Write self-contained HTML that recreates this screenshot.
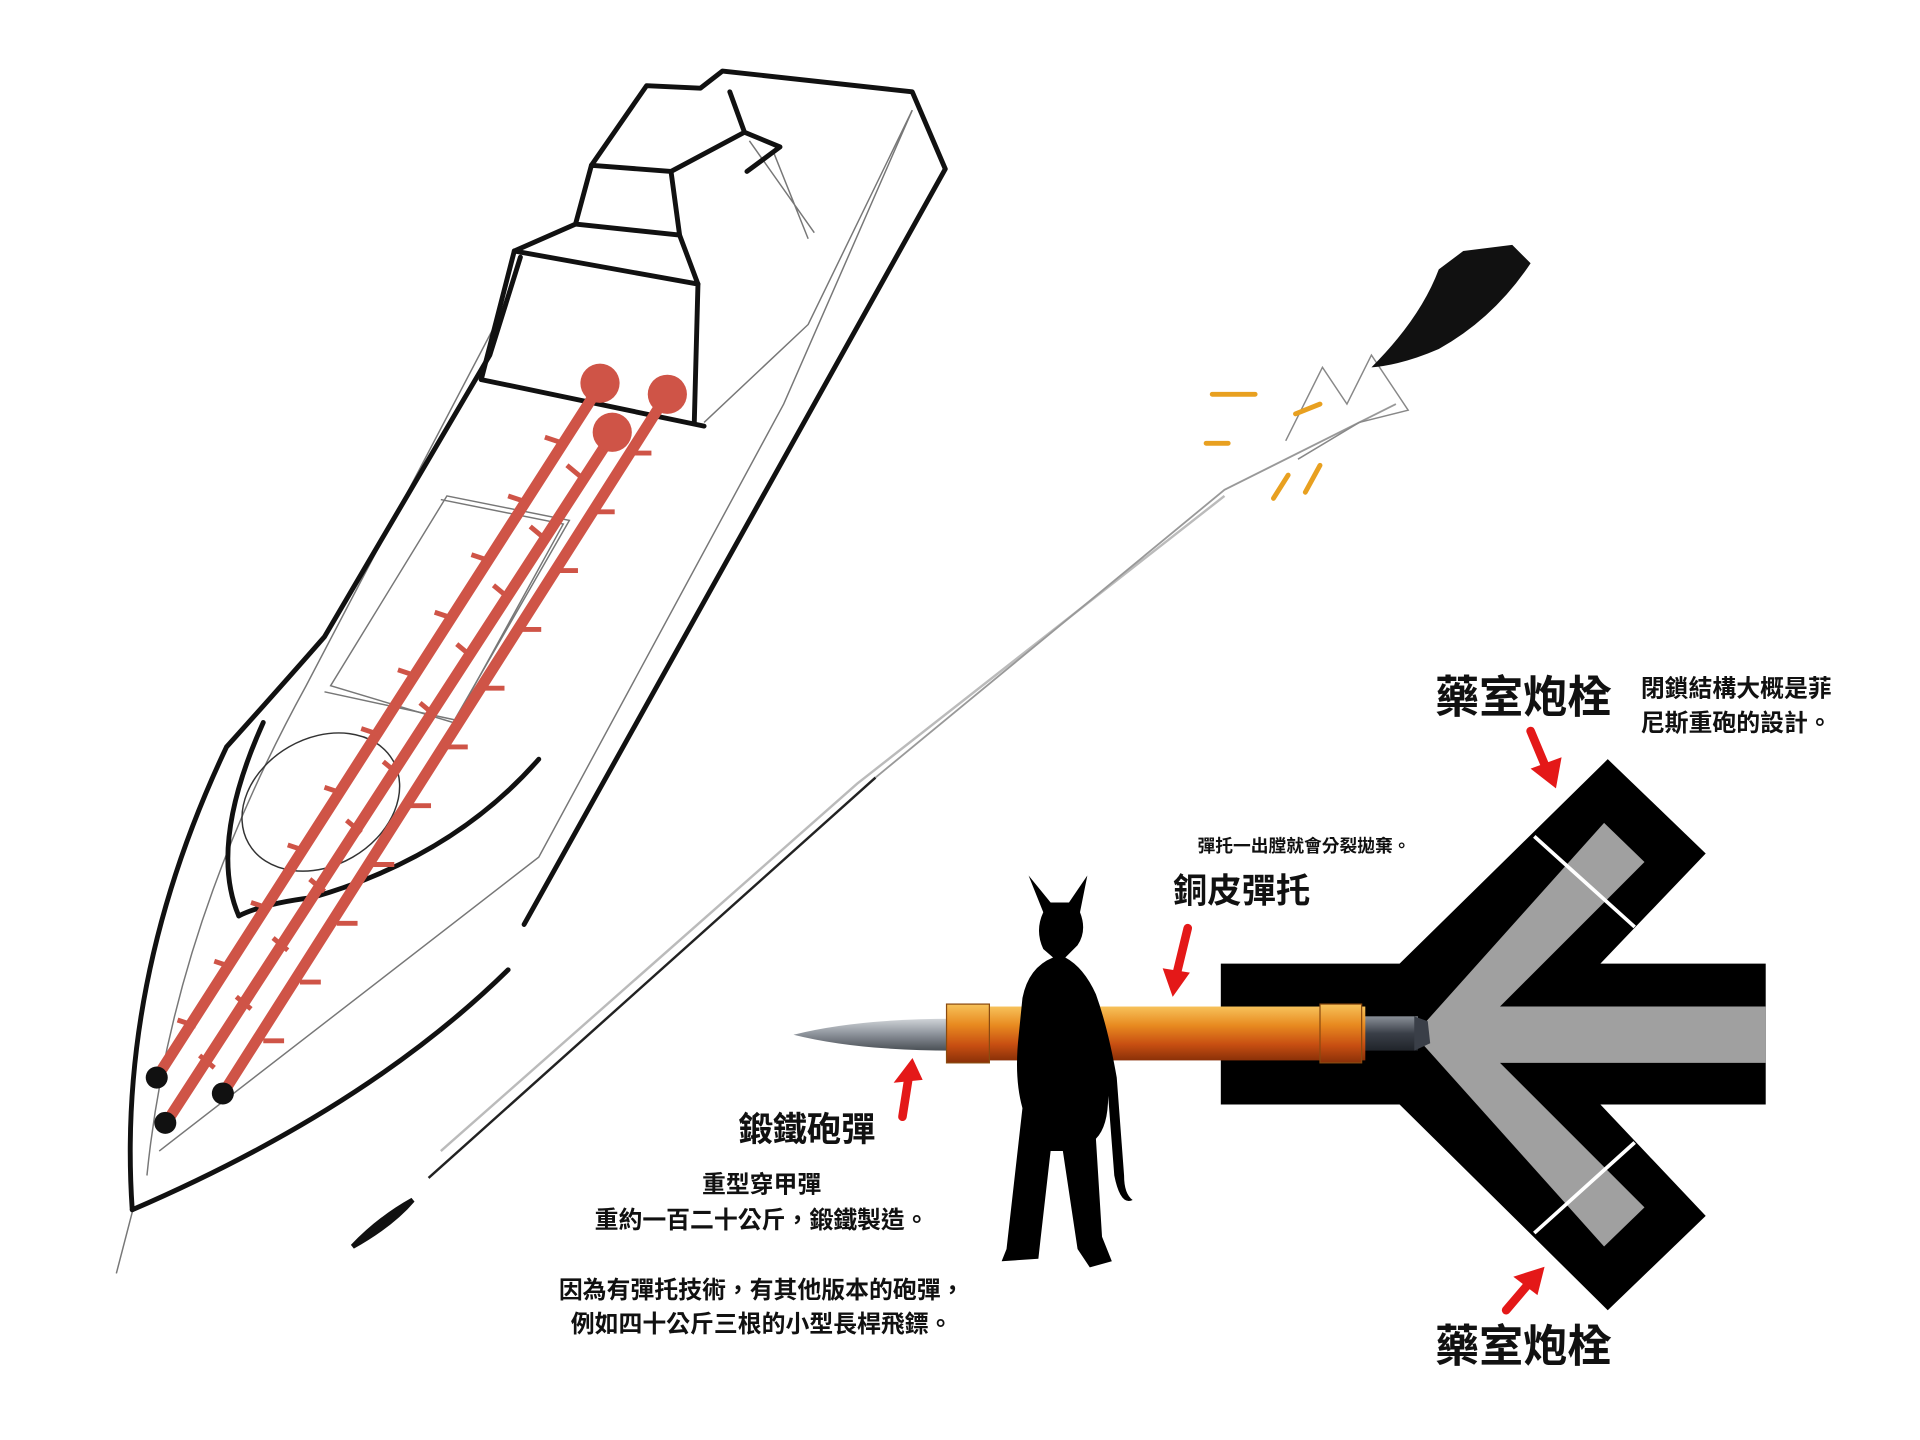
<!DOCTYPE html>
<html><head><meta charset="utf-8"><style>
html,body{margin:0;padding:0;background:#fff;}
svg{display:block}
text{font-family:"Liberation Sans","Noto Sans CJK TC",sans-serif;fill:#111}
</style></head><body>
<svg width="1920" height="1440" viewBox="0 0 1568 1176" preserveAspectRatio="xMinYMin meet" xmlns="http://www.w3.org/2000/svg">
<rect width="1568" height="1176" fill="#fff"/>
<!-- ship thin sketch lines -->
<g fill="none" stroke="#777" stroke-width="1.2">
<path d="M120,960 Q140,760 250,560 L415,245"/>
<path d="M130,940 L440,700 L640,330 L745,90"/>
<path d="M365,405 L465,425 L370,590 L270,560 Z"/>
<path d="M360,408 L460,428 L372,588 L265,565"/>
<ellipse cx="262" cy="655" rx="68" ry="52" transform="rotate(-30 262 655)" stroke="#333"/>
<path d="M575,345 L660,265 L745,90"/>
<path d="M612,115 L665,190 M632,125 L660,195"/>
<path d="M95,1040 L108,990"/>
</g>
<!-- ship thick lines -->
<g fill="none" stroke="#111" stroke-width="4" stroke-linejoin="round" stroke-linecap="round">
<path d="M108,988 Q95,800 185,610 Q230,560 265,520 L400,290 L425,210"/>
<path d="M108,988 Q300,905 415,792"/>
<path d="M428,755 L772,138 L745,75 L590,58 L572,72 L528,70 L483,135"/>
<path d="M195,748 Q170,690 215,590"/>
<path d="M195,748 Q215,738 255,733 Q370,700 440,620"/>
<path d="M393,310 L420,205 L570,232 L567,345"/>
<path d="M393,310 L575,348"/>
<path d="M470,183 L483,135 L548,140 L555,192 Z"/>
<path d="M420,205 L470,183 M555,192 L570,232"/>
<path d="M548,140 L608,108 L596,75 M608,108 L637,120 L610,140"/>
</g>
<!-- red rails -->
<g stroke="#cf5447" stroke-width="9" stroke-linecap="round" fill="none">
<path d="M490,315 L128,880"/>
<path d="M545,322 L182,893"/>
<path d="M500,355 L137,915"/>
</g>
<g stroke="#cf5447" stroke-width="4" fill="none">
<path d="M460,362 l-15,-5 M430,410 l-15,-5 M400,458 l-15,-5 M370,505 l-15,-5 M340,552 l-15,-5 M310,600 l-15,-5 M280,648 l-15,-5 M250,695 l-15,-5 M220,742 l-15,-5 M190,790 l-15,-5 M160,838 l-15,-5"/>
<path d="M515,370 l17,0 M485,418 l17,0 M455,466 l17,0 M425,514 l17,0 M395,562 l17,0 M365,610 l17,0 M335,658 l17,0 M305,706 l17,0 M275,754 l17,0 M245,802 l17,0 M215,850 l17,0"/>
<path d="M475,390 l-12,-10 M445,440 l-12,-10 M415,488 l-12,-10 M385,536 l-12,-10 M355,584 l-12,-10 M325,632 l-12,-10 M295,680 l-12,-10 M265,728 l-12,-10 M235,776 l-12,-10 M205,824 l-12,-10 M175,872 l-12,-10"/>
</g>
<g fill="#cf5447"><circle cx="490" cy="313" r="16"/><circle cx="545" cy="322" r="16"/><circle cx="500" cy="353" r="16"/></g>
<g fill="#111"><circle cx="128" cy="880" r="9"/><circle cx="182" cy="893" r="9"/><circle cx="135" cy="917" r="9"/></g>
<!-- trail -->
<g fill="none">
<path d="M350,962 L715,635" stroke="#222" stroke-width="2"/>
<path d="M360,940 L700,640 L1000,405" stroke="#bbb" stroke-width="2"/>
<path d="M715,635 L1000,400 L1140,330" stroke="#999" stroke-width="1.5"/>
<path d="M1050,360 L1080,300 L1100,330 L1120,290 L1150,335 L1110,345 L1060,375" stroke="#888" stroke-width="1.2"/>
</g>
<path d="M288,1018 Q310,995 337,980 Q320,1000 288,1018 Z" fill="#111" stroke="#111" stroke-width="4"/>
<path d="M1120,300 Q1160,260 1175,220 L1195,205 L1235,200 L1250,215 Q1220,260 1175,285 Q1145,298 1120,300 Z" fill="#111"/>
<g stroke="#e8a020" stroke-width="4" stroke-linecap="round">
<path d="M990,322 L1025,322 M985,362 L1003,362 M1040,407 L1052,388 M1066,402 L1078,380 M1058,338 L1078,330"/>
</g>
<!-- chamber -->
<polygon points="997,787 1143,787 1313,620 1393,697 1307,787 1442,787 1442,902 1307,902 1393,993 1313,1070 1143,902 997,902" fill="#000"/>
<polygon points="1155,845 1310,672 1343,704 1225,822 1442,822 1442,868 1225,868 1343,986 1310,1018" fill="#a0a0a0"/>
<g stroke="#fff" stroke-width="3"><path d="M1253,683 L1335,757 M1253,1007 L1335,933"/></g>
<!-- bullet -->
<defs>
<linearGradient id="gp" x1="0" y1="0" x2="0" y2="1"><stop offset="0" stop-color="#d0d4d8"/><stop offset="0.5" stop-color="#8a9098"/><stop offset="1" stop-color="#4a4f55"/></linearGradient>
<linearGradient id="go" x1="0" y1="0" x2="0" y2="1"><stop offset="0" stop-color="#f7c25a"/><stop offset="0.35" stop-color="#e88a20"/><stop offset="0.7" stop-color="#c84f12"/><stop offset="1" stop-color="#8a3008"/></linearGradient>
<linearGradient id="gt" x1="0" y1="0" x2="0" y2="1"><stop offset="0" stop-color="#8a9098"/><stop offset="0.5" stop-color="#3a3f48"/><stop offset="1" stop-color="#20242a"/></linearGradient>
</defs>
<path d="M648,845 Q700,832 778,832 L778,858 Q700,858 648,845 Z" fill="url(#gp)"/>
<rect x="1112" y="830" width="46" height="28" fill="url(#gt)"/>
<path d="M1155,830 L1166,834 L1168,852 L1155,858 Z" fill="#3a3f48"/>
<rect x="773" y="822" width="342" height="44" fill="url(#go)"/>
<rect x="773" y="820" width="35" height="48" fill="url(#go)" stroke="#8a4a10" stroke-width="1"/>
<rect x="1078" y="820" width="34" height="48" fill="url(#go)" stroke="#8a4a10" stroke-width="1"/>
<!-- cat silhouette -->
<path d="M840,715 L852,745 Q845,760 852,775 L860,782 Q840,790 835,815 L832,845 Q828,880 835,905 L822,1020 L818,1030 L848,1028 L850,1010 L858,940 L868,940 L880,1020 L890,1035 L908,1030 L900,1010 L895,930 Q905,920 905,895 L910,960 Q915,985 925,980 Q918,975 918,960 L912,880 Q905,840 895,812 Q885,790 870,782 L880,772 Q888,760 882,745 L888,715 L873,737 L858,737 Z" fill="#000"/>
<!-- red arrows -->
<g stroke="#e41818" stroke-width="7" stroke-linecap="round" fill="#e41818">
<path d="M1250,597 L1263,628"/><polygon points="1252,628 1274,620 1270,642" stroke-width="2"/>
<path d="M970,758 L961,795"/><polygon points="951,792 970,795 958,812" stroke-width="2"/>
<path d="M737,912 L742,880"/><polygon points="732,883 752,881 745,866" stroke-width="2"/>
<path d="M1230,1070 L1247,1050"/><polygon points="1238,1043 1255,1056 1260,1036" stroke-width="2"/>
</g>
<!-- text -->
<text x="1172" y="582" font-size="36" font-weight="bold">藥室炮栓</text>
<text x="1172" y="1112" font-size="36" font-weight="bold">藥室炮栓</text>
<text x="1340" y="569" font-size="19.5" font-weight="bold">閉鎖結構大概是菲</text>
<text x="1340" y="597" font-size="19.5" font-weight="bold">尼斯重砲的設計。</text>
<text x="978" y="696" font-size="14.5" font-weight="bold">彈托一出膛就會分裂拋棄。</text>
<text x="958" y="737" font-size="28" font-weight="bold">銅皮彈托</text>
<text x="603" y="932" font-size="28" font-weight="bold">鍛鐵砲彈</text>
<g font-size="19.5" font-weight="bold" text-anchor="middle">
<text x="622" y="974">重型穿甲彈</text>
<text x="622" y="1003">重約一百二十公斤，鍛鐵製造。</text>
<text x="622" y="1060">因為有彈托技術，有其他版本的砲彈，</text>
<text x="622" y="1088">例如四十公斤三根的小型長桿飛鏢。</text>
</g>
</svg>
</body></html>
